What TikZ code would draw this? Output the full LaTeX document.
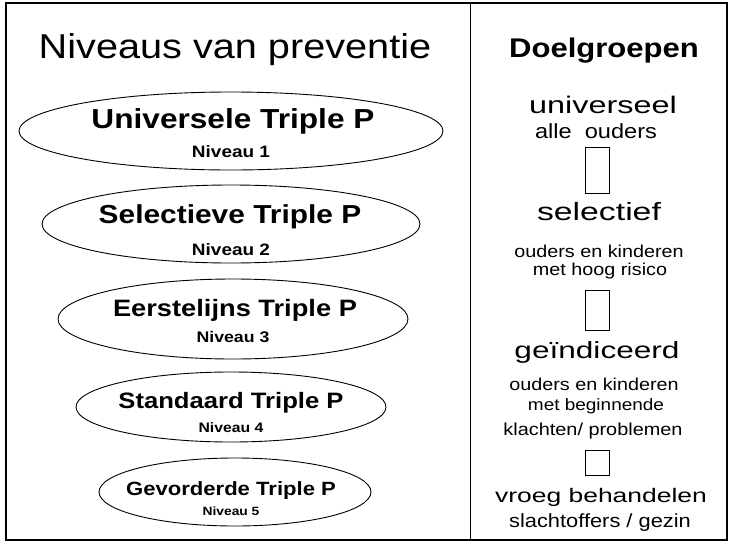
\documentclass[tikz,border=0pt]{standalone}
\usepackage{fontspec}
\setmainfont{Liberation Sans}[FakeStretch=1.15]
\newfontfamily\widefont{Liberation Sans}[FakeStretch=1.35]
\usetikzlibrary{shapes.geometric}
\newcommand{\fs}[1]{\fontsize{#1}{#1}\selectfont}
\tikzset{
  lbl/.style={anchor=base, inner sep=0pt, outer sep=0pt},
  lvl/.style={draw, ellipse, line width=0.9pt, inner sep=0pt, outer sep=0pt},
  gapbox/.style={draw, rectangle, line width=0.8pt, inner sep=0pt, outer sep=0pt, minimum width=24pt},
}
\begin{document}
\begin{tikzpicture}[x=1pt, y=-1pt]
\useasboundingbox (0,0) rectangle (731,544);
% frame and divider
\draw[line width=2.6pt] (6,3) rectangle (727,540);
\coordinate (dtop) at (470,3);
\coordinate (dbot) at (470,540);
\draw[line width=0.9pt] (dtop) -- (dbot);
% titles
\node[lbl] (title) at (235,58) {\fs{34.5}Niveaus van preventie};
\node[lbl] (doel) at (604,57) {\fs{27}\bfseries Doelgroepen};
% ellipses
\node[lvl, minimum width=424pt, minimum height=78pt] (e1) at (231,131) {};
\node[lvl, minimum width=378pt, minimum height=78pt] (e2) at (231,224) {};
\node[lvl, minimum width=350pt, minimum height=80pt] (e3) at (233,319) {};
\node[lvl, minimum width=310pt, minimum height=70pt] (e4) at (231,407) {};
\node[lvl, minimum width=272pt, minimum height=68pt] (e5) at (235,492) {};
% ellipse texts
\node[lbl] (t1) at (233,128) {\fs{27.5}\bfseries Universele Triple P};
\node[lbl] (n1) at (231,157) {\fs{16.5}\bfseries Niveau 1};
\node[lbl] (t2) at (230,223) {\fs{26}\bfseries Selectieve Triple P};
\node[lbl] (n2) at (231,255) {\fs{16.5}\bfseries Niveau 2};
\node[lbl] (t3) at (235,316) {\fs{23.7}\bfseries Eerstelijns Triple P};
\node[lbl] (n3) at (233,342) {\fs{15.4}\bfseries Niveau 3};
\node[lbl] (t4) at (231,408) {\fs{22.3}\bfseries Standaard Triple P};
\node[lbl] (n4) at (231,432) {\fs{13.7}\bfseries Niveau 4};
\node[lbl] (t5) at (231,495) {\fs{19.2}\bfseries Gevorderde Triple P};
\node[lbl] (n5) at (231,515) {\fs{12}\bfseries Niveau 5};
% target groups
\node[lbl] (g1) at (603,113) {\widefont\fs{24}universeel};
\node[lbl] (g1b) at (596,138) {\fs{20.5}alle\ \ ouders};
\node[gapbox, minimum height=46pt] (b1) at (597,170) {};
\node[lbl] (g2) at (599,220) {\widefont\fs{25}selectief};
\node[lbl] (g2b) at (599,257) {\fs{17.2}ouders en kinderen};
\node[lbl] (g2c) at (600,275) {\fs{17.2}met hoog risico};
\node[gapbox, minimum height=40pt] (b2) at (597,310) {};
\node[lbl] (g3) at (597,358) {\widefont\fs{23.4}geïndiceerd};
\node[lbl] (g3b) at (594,390) {\fs{17.2}ouders en kinderen};
\node[lbl] (g3c) at (596,410) {\fs{16.5}met beginnende};
\node[lbl] (g3d) at (593,435) {\fs{17.3}klachten/ problemen};
\node[gapbox, minimum height=25pt] (b3) at (597,462.5) {};
\node[lbl] (g4) at (601,502) {\widefont\fs{19.6}vroeg behandelen};
\node[lbl] (g4b) at (600,527) {\fs{19}slachtoffers / gezin};
\end{tikzpicture}
\end{document}
